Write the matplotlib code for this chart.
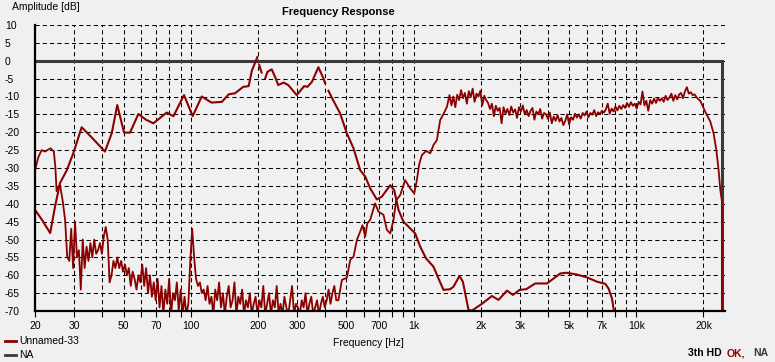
import numpy as np
import matplotlib
matplotlib.use("Agg")
import matplotlib.pyplot as plt
from matplotlib.lines import Line2D
from matplotlib.ticker import FixedLocator

plt.rcParams['font.family'] = ['Liberation Sans', 'DejaVu Sans']

# ---------------- data ----------------
# Curve W (smooth, low/mid driver + tail)
w_freq = [20, 21.5, 23.4, 24.6, 25.9, 27.8, 29.7, 32.4, 36, 41.2, 44.2, 46.8, 50.2, 53.4,
          58.2, 63, 68, 78, 83.6, 93.3, 102, 112, 124, 138, 148, 158, 172, 182, 188, 199,
          200, 203, 208, 212, 216, 221, 231, 239, 247, 261, 274, 299, 323, 334, 350, 374,
          394, 401, 408, 415, 437, 460, 468, 502, 538, 576, 607, 639, 684, 721, 786, 819,
          856, 901, 966, 1017, 1071, 1139, 1229, 1294, 1363, 1461, 1511, 1608, 1665, 1765,
          1828, 2027, 2248, 2407, 2626, 2793, 2991, 3204, 3518, 3970, 4556, 4846, 5413,
          6002, 6657, 7253, 7505, 7773, 7902, 8050]
w_db = [-41.7, -44.5, -48.2, -40.8, -34.2, -30.6, -25.9, -18.6, -21.5, -25.4, -20.3, -12.4, -20.1, -20.1,
        -14.9, -16.5, -17.5, -14.5, -15.5, -9.6, -15.5, -10.0, -11.7, -11.5, -9.4, -9.1, -7.3, -7.1, -2.8, 1.0,
        np.nan, -1.2, -3.3, np.nan, -4.9, -3.1, -2.4, -4.5, -6.8, -6.1, -6.8, -9.6, -7.1, -7.3, -5.9, -1.8,
        -4.9, -6.3, np.nan, -8.4, -11.2, -13.8, -14.7, -20.3, -24.5, -30.6, -32.4, -35.7, -38.8, -38.0, -34.8, -36.2,
        -41.7, -45.0, -46.9, -48.3, -52.0, -55.3, -57.6, -60.9, -64.1, -63.9, -63.2, -60.2, -61.8, -69.7,
        -69.9, -68.0, -65.8, -66.9, -64.3, -65.5, -64.1, -63.9, -62.3, -62.3, -59.5, -59.3, -59.8,
        -60.6, -61.8, -62.4, -63.7, -66.5, -69.3, -73.0]

# Curve T (noisy): low part, noise floor, rise, top band, tail
t_low_freq = [20, 20.7, 21.4, 22.2, 23.0, 23.5, 24.3, 24.7, 25.0, 25.5, 25.9, 26.6, 27.3, 27.9]
t_low_db = [-30.6, -27.0, -25.0, -25.4, -24.8, -24.5, -25.4, -30.0, -36.5, -35.2, -34.8, -39.0, -44.5, -54.8]

t_floor_db = [-56, -47, -58, -45, -55, -53, -64, -50, -58, -52,
              -56, -51, -55, -50, -54, -53, -51, -54, -49, -46.5,
              -50, -62, -60, -56, -58, -55, -58, -56, -59, -57,
              -60, -58, -63, -59, -61, -64, -60, -62, -57, -63,
              -58, -65, -60, -66, -62, -67, -61, -69, -63, -71,
              -64, -68, -61, -71, -65, -67, -62, -70, -64, -71,
              -66, -71, -68, -56, -47, -55, -61, -63, -62, -65,
              -64, -67, -63, -68, -66, -71, -64, -67, -62, -69,
              -65, -71, -66, -63, -69, -67, -62, -71, -66, -68,
              -64, -71, -67, -69, -65, -71, -68, -66, -71, -67,
              -69, -63, -71, -68, -65, -71, -67, -69, -63, -71,
              -68, -71, -66, -69, -71, -67, -63, -71, -68, -69,
              -71, -67, -69, -65, -71, -68, -66, -71, -69, -67,
              -71, -68, -66, -69, -67, -64, -68, -65, -63, -67]

t_rise_freq = [460, 477, 502, 520, 538, 557, 576, 590, 607, 620, 639, 672, 696, 733, 759, 786,
               813, 836, 871, 917, 966, 1007, 1035, 1060, 1090, 1140, 1188, 1230, 1273, 1317, 1360, 1412]
t_rise_db = [-67.0, -61.3, -60.7, -55.7, -54.8, -50.1, -47.8, -46.0, -49.2, -45.5, -44.5, -39.9, -42.2, -43.1, -47.3, -48.3,
             -44.5, -39.0, -37.6, -33.4, -35.7, -37.1, -33.4, -29.0, -26.4, -25.2, -25.9, -23.5, -22.2, -16.6, -15.0, -12.9]

t_band_db = [-9.6, -12.5, -10.0, -13.0, -9.5, -11.0, -8.2, -10.5, -9.0, -12.0,
             -8.5, -10.2, -7.8, -11.5, -9.2, -10.0, -8.4, -12.5, -9.8, -11.0,
             -11.8, -13.5, -12.0, -15.5, -12.6, -14.0, -13.2, -17.5, -13.0, -14.8,
             -13.5, -15.2, -12.8, -14.5, -13.6, -16.0, -13.0, -14.2, -12.5, -15.0,
             -13.8, -15.5, -14.0, -13.2, -16.5, -14.2, -15.0, -13.5, -16.2, -14.6,
             -15.0, -16.2, -14.5, -17.5, -15.6, -16.8, -15.2, -17.0, -16.0, -18.0,
             -16.8, -15.0, -17.8, -15.8, -16.5, -14.8, -15.9, -15.0, -16.2, -14.6,
             -15.3, -14.2, -15.8, -14.6, -15.1, -13.8, -15.5, -14.4, -14.9, -14.0,
             -14.5, -13.6, -12.0, -14.8, -13.4, -14.2, -12.8, -13.9, -12.6, -13.5,
             -12.4, -13.2, -11.8, -12.9, -11.6, -12.6, -12.0, -13.4, -11.5, -12.2,
             -8.6, -12.5, -11.2, -14.0, -11.0, -12.0, -10.6, -11.8, -10.4, -11.2,
             -10.5, -11.5, -9.8, -11.0, -10.2, -9.2, -11.2, -9.6, -10.8, -9.4,
             -9.0, -10.5, -8.6, -7.4, -9.2, -8.8, -9.6, -9.4, -10.2, -10.8]

t_tail_freq = [19368, 20394, 21480, 22220, 22860, 23400, 23820, 24240, 24300]
t_tail_db = [-11.2, -14.3, -17.0, -20.3, -25.0, -30.6, -36.2, -39.4, -90.0]

# NA series (flat 0 dB, ending at the top of the band)
na_freq = [20, 24300, 24300]
na_db = [0, 0, -90]

grid_freqs = [20, 30, 40, 50, 60, 70, 80, 90, 100, 200, 300, 400, 500, 600, 700, 800, 900,
              1000, 2000, 3000, 4000, 5000, 6000, 7000, 8000, 9000, 10000, 20000]
grid_labels = ['20', '30', '', '50', '', '70', '', '', '100', '200', '300', '', '500', '', '700', '', '',
               '1k', '2k', '3k', '', '5k', '', '7k', '', '', '10k', '20k']
y_ticks = list(range(-70, 11, 5))

# ---------------- figure ----------------
W, H = 775, 362
bg = '#F0F0F0'
red = '#8B0000'
gray = '#3A3A3A'
fig = plt.figure(figsize=(W / 100, H / 100), dpi=100, facecolor=bg)
ax = fig.add_axes([35 / W, 1 - 311 / H, (725 - 35) / W, (311 - 25) / H], facecolor=bg)

t_freq = (t_low_freq + list(np.geomspace(28.5, 450, len(t_floor_db))) + t_rise_freq
          + list(np.geomspace(1450, 19000, len(t_band_db))) + t_tail_freq)
t_db = t_low_db + t_floor_db + t_rise_db + t_band_db + t_tail_db

ax.plot(na_freq, na_db, color=gray, lw=2.2, zorder=3, solid_joinstyle='miter')
ax.plot(w_freq, w_db, color=red, lw=1.5, zorder=4)
ax.plot(t_freq, t_db, color=red, lw=1.3, zorder=4)

ax.set_xscale('log')
ax.set_xlim(20, 25000)
ax.set_ylim(-70, 10)

ax.xaxis.set_major_locator(FixedLocator(grid_freqs))
ax.xaxis.set_minor_locator(FixedLocator([]))
ax.set_xticklabels(grid_labels)
ax.set_yticks(y_ticks)
ax.set_yticklabels([str(v) for v in y_ticks])

ax.grid(True, color='black', linestyle=(0, (4, 3)), lw=0.75, zorder=1)
for s in ['top', 'right']:
    ax.spines[s].set_visible(False)
for s in ['left', 'bottom']:
    ax.spines[s].set_linewidth(1.6)
    ax.spines[s].set_color('black')
    ax.spines[s].set_zorder(5)

ax.tick_params(axis='x', length=4, width=0.8, pad=3.0, labelsize=7.5, colors='black', direction='out')
ax.tick_params(axis='y', length=0, pad=21.6, labelsize=7.5, colors='black')
for lab in ax.get_yticklabels():
    lab.set_horizontalalignment('left')

# texts
fig.text(338 / W, 1 - 12 / H, 'Frequency Response', ha='center', va='center', fontsize=8, fontweight='bold')
fig.text(12 / W, 1 - 7 / H, 'Amplitude [dB]', ha='left', va='center', fontsize=7.5)
fig.text(368 / W, 1 - 343.5 / H, 'Frequency [Hz]', ha='center', va='center', fontsize=7.5)

# legend
fig.add_artist(Line2D([5 / W, 16 / W], [1 - 341 / H] * 2, color=red, lw=2))
fig.text(19 / W, 1 - 341.5 / H, 'Unnamed-33', ha='left', va='center', fontsize=7.5)
fig.add_artist(Line2D([5 / W, 16 / W], [1 - 355 / H] * 2, color=gray, lw=2))
fig.text(19 / W, 1 - 355 / H, 'NA', ha='left', va='center', fontsize=7.5)

# status text bottom-right
fig.text(688 / W, 1 - 353 / H, '3th HD', ha='left', va='center', fontsize=7.5, fontweight='bold', color='black')
fig.text(727 / W, 1 - 353 / H, 'OK,', ha='left', va='center', fontsize=7.5, fontweight='bold', color=red)
fig.text(753 / W, 1 - 353 / H, 'NA', ha='left', va='center', fontsize=7.5, fontweight='bold', color=gray)

fig.savefig('out.png', dpi=100, facecolor=bg)
